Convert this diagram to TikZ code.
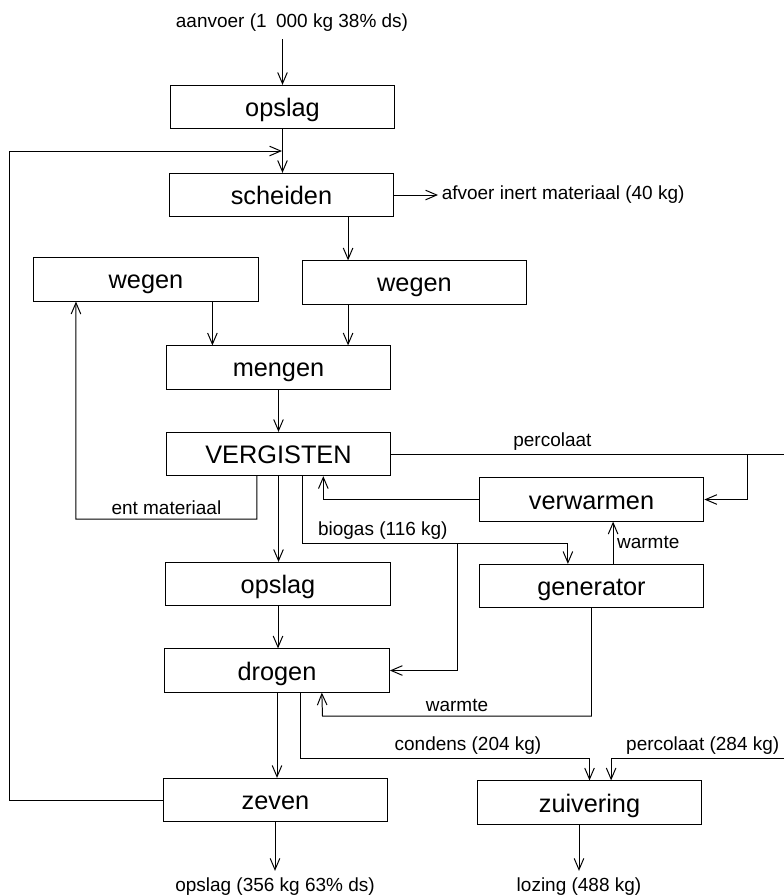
\documentclass[tikz,border=0pt]{standalone}
\usepackage{fontspec}
\setmainfont{Liberation Sans}
\usetikzlibrary{arrows.meta,calc}

\begin{document}
\begin{tikzpicture}[x=0.025cm, y=-0.025cm,
	blok/.style={draw, line width=0.7pt, minimum width=5.62cm, minimum height=1.08cm, inner sep=0pt, text height=13.5pt, text depth=0pt, font=\fontsize{18}{20}\selectfont},
	tekst/.style={inner sep=2.5pt, font=\fontsize{13.5}{16}\selectfont},
	eind/.style={tekst, inner ysep=5pt},
	lijn/.style={line width=0.7pt},
	pijl/.style={lijn, -{Straight Barb[length=2.8mm, width=2.4mm]}}]
	\useasboundingbox (0,0) rectangle (784,896);

	\node[blok] (opslag) at (282.5,107) {opslag};
	\node[blok] (scheiden) at (281.5,195) {scheiden};
	\node[blok] (wegenl) at (146,279.5) {wegen};
	\node[blok] (wegenr) at (414.5,282.5) {wegen};
	\node[blok] (mengen) at (278.5,367.5) {mengen};
	\node[blok] (vergisten) at (278.5,454) {VERGISTEN};
	\node[blok] (opslagb) at (278,584) {opslag};
	\node[blok] (drogen) at (277,670.5) {drogen};
	\node[blok] (zeven) at (275.5,800) {zeven};

	\node[blok] (verwarmen) at (591.5,499.5) {verwarmen};
	\node[blok] (generator) at (591.5,586) {generator};
	\node[blok] (zuivering) at (589.5,802.5) {zuivering};

	\node[eind] (aanvoer) at (292,23) {aanvoer (1\enspace000 kg 38\% ds)};
	\node[eind, anchor=west] (afvoer) at (438,195) {afvoer inert materiaal (40 kg)};
	\node[eind] (opslagc) at (275,887) {opslag (356 kg 63\% ds)};
	\node[eind] (lozing) at (579,887) {lozing (488 kg)};

	\coordinate (rand1) at (784,454);
	\coordinate (rand2) at (784,758);

	% aanvoer en scheiden
	\draw[pijl] (aanvoer.south -| opslag.north) -- (opslag.north);
	\draw[pijl] (opslag.south) -- (opslag.south |- scheiden.north);
	\draw[pijl] (zeven.west) -- ++(-153,0) |- ($(opslag.south)!0.5!(scheiden.north)$);
	\draw[pijl] (scheiden.east) -- (afvoer.west);
	\draw[pijl] ([xshift=-1.66cm]wegenr.north |- scheiden.south) -- ([xshift=-1.66cm]wegenr.north);

	% wegen en mengen
	\draw[pijl] ([xshift=1.66cm]wegenl.south) -- ([xshift=1.66cm]wegenl.south |- mengen.north);
	\draw[pijl] ([xshift=-1.66cm]wegenr.south) -- ([xshift=-1.66cm]wegenr.south |- mengen.north);
	\draw[pijl] (mengen.south) -- (vergisten.north);
	\draw[pijl] ([xshift=-0.54cm]vergisten.south) -- ++(0,43) -- ++(-181,0) node[tekst, midway, above] {ent materiaal} -- ([xshift=-1.75cm]wegenl.south);

	% hoofdlijn
	\draw[pijl] (vergisten.south) -- (vergisten.south |- opslagb.north);
	\draw[pijl] (opslagb.south) -- (opslagb.south |- drogen.north);
	\draw[pijl] (drogen.south) -- (drogen.south |- zeven.north);
	\draw[pijl] (opslagc.north |- zeven.south) -- (opslagc.north);
	\draw[pijl] (lozing.north |- zuivering.south) -- (lozing.north);

	% percolaat, biogas en warmte
	\draw[lijn] (vergisten.east) -- (rand1) node[tekst, pos=0.41, above] {percolaat} coordinate[pos=0.907] (tak);
	\draw[pijl] (tak) |- (verwarmen.east);
	\draw[pijl] (verwarmen.west) -| ([xshift=1.12cm]vergisten.south);
	\draw[pijl] ([xshift=0.59cm]vergisten.south) -- ++(0,67) node[tekst, above right, xshift=0.3cm] {biogas (116 kg)} -- ++(155,0) coordinate (biotak) -| ([xshift=-0.59cm]generator.north);
	\draw[pijl] (biotak) |- (drogen.east);
	\draw[pijl] ([xshift=0.54cm]generator.north) -- ([xshift=0.54cm]verwarmen.south) node[tekst, midway, right] {warmte};
	\draw[pijl] (generator.south) -- ++(0,108) -- ++(-269,0) node[tekst, midway, above] {warmte} -- ([xshift=1.12cm]drogen.south);

	% naar zuivering
	\draw[pijl] ([xshift=0.58cm]drogen.south) -- ++(0,66) -| (zuivering.north) node[tekst, pos=0.29, above] {condens (204 kg)};
	\draw[pijl] (rand2) -| ([xshift=0.54cm]zuivering.north) node[tekst, pos=0.235, above] {percolaat (284 kg)};
\end{tikzpicture}
\end{document}
